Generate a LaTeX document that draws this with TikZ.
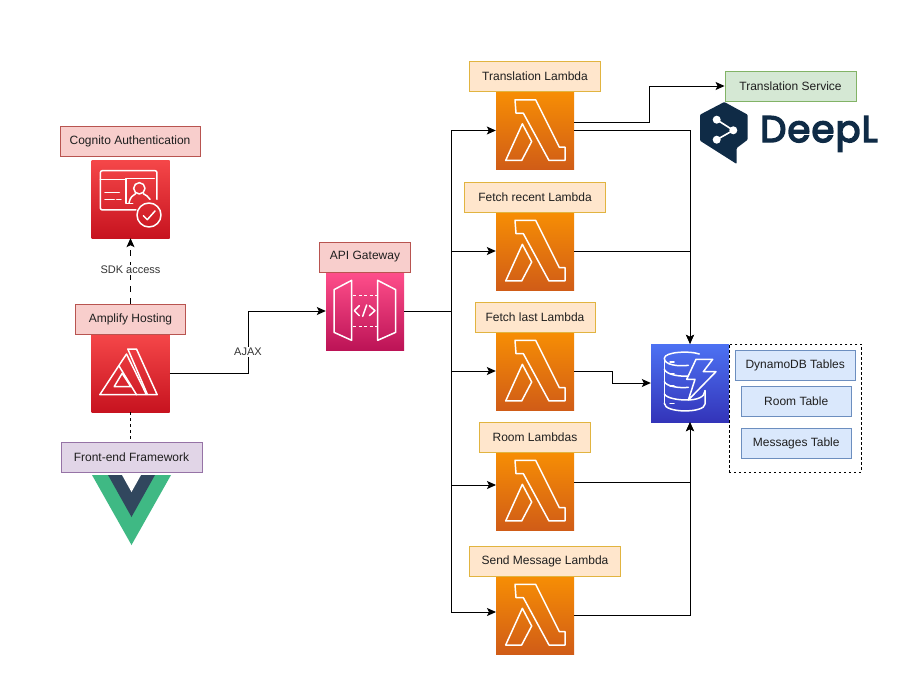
\documentclass[tikz,border=0pt]{standalone}
\usepackage{fontspec}
\setmainfont{Liberation Sans}
\newfontfamily\logofont[FakeBold=4,LetterSpace=3]{Poppins}
\usetikzlibrary{arrows.meta,calc}
\definecolor{ink}{HTML}{1F1F1F}
\definecolor{edgeink}{HTML}{333333}
\definecolor{navy}{HTML}{0F2B46}
\definecolor{redlo}{HTML}{C7131F}\definecolor{redhi}{HTML}{F54749}
\definecolor{pinklo}{HTML}{BC1356}\definecolor{pinkhi}{HTML}{FF4F8B}
\definecolor{orglo}{HTML}{D05C17}\definecolor{orghi}{HTML}{F78E04}
\definecolor{blulo}{HTML}{3334B9}\definecolor{bluhi}{HTML}{4D72F3}
\definecolor{redline}{HTML}{B85450}\definecolor{redfill}{HTML}{F8CECC}
\definecolor{orgline}{HTML}{D79B00}\definecolor{orgfill}{HTML}{FFE6CC}
\definecolor{purline}{HTML}{9673A6}\definecolor{purfill}{HTML}{E1D5E7}
\definecolor{grnline}{HTML}{82B366}\definecolor{grnfill}{HTML}{D5E8D4}
\definecolor{bluline}{HTML}{6C8EBF}\definecolor{blufill}{HTML}{DAE8FC}
\definecolor{vuegreen}{HTML}{3FB984}\definecolor{vuedark}{HTML}{31475E}
\tikzset{
  lab/.style={line width=0.9pt,minimum height=30pt,inner sep=0pt,text=ink,font=\fontsize{12}{14}\selectfont},
  redlab/.style={lab,draw=redline,fill=redfill},
  orangelab/.style={lab,draw=orgline!75,fill=orgfill},
  purplelab/.style={lab,draw=purline,fill=purfill},
  greenlab/.style={lab,draw=grnline,fill=grnfill},
  bluelab/.style={lab,draw=bluline,fill=blufill},
  icon/.style={minimum width=78pt,minimum height=78pt,inner sep=0pt},
  conn/.style={draw=black,line width=1pt,-{Stealth[length=9pt,width=8pt,inset=2pt]}},
  plain/.style={draw=black,line width=1pt},
  edgelab/.style={fill=white,inner sep=1pt,text=edgeink,font=\fontsize{11}{13}\selectfont},
  glyph/.style={draw=white,line width=1.5pt,line join=round,line cap=round,fill=none},
  lambdaglyph/.pic={
    \begin{scope}[x=0.3333pt,y=-0.3333pt,shift={(-168,-125)}]
      \draw[glyph] (225,150)--(287,150)--(358,292)--(375,292)--(375,332)--(327,332)--(250,190)--(228,190)--cycle;
      \draw[glyph] (247,222)--(275,275)--(245,332)--(197,332)--cycle;
    \end{scope}},
  amplifyglyph/.pic={
    \begin{scope}[x=0.3333pt,y=-0.3333pt,shift={(1.5,0)}]
      \draw[glyph] (109,45)--(135,45)--(197,182)--(168,182)--cycle;
      \draw[glyph] (105,60)--(165,182)--(135,182)--(82,95)--cycle;
      \draw[glyph] (82,95)--(25,182)--(135,182);
      \draw[glyph] (68,158)--(118,158)--(92,118)--cycle;
    \end{scope}},
  cognitoglyph/.pic={
    \begin{scope}[x=0.3333pt,y=-0.3333pt]
      \draw[glyph,rounded corners=2pt] (135,150)--(28,150)--(28,32)--(198,32)--(198,118);
      \draw[glyph] (28,58)--(103,58);
      \draw[glyph] (125,130)--(105,130)--(105,55)--(190,55);
      \draw[glyph] (42,97)--(85,97);
      \draw[glyph] (42,118)--(70,118) (77,118)--(90,118);
      \draw[glyph] (145,85) circle[radius=17];
      \draw[glyph] (114,128) .. controls (118,112) and (125,105) .. (134,101);
      \draw[glyph] (157,101) .. controls (165,105) and (172,110) .. (177,118);
      \draw[glyph] (174,165) circle[radius=36];
      \draw[glyph] (157,167)--(169,179)--(192,153);
    \end{scope}},
  apiglyph/.pic={
    \begin{scope}[x=0.3333pt,y=-0.3333pt,shift={(-78,-127)}]
      \draw[glyph] (102,180)--(155,152)--(155,332)--(102,308)--cycle;
      \draw[glyph] (233,152)--(287,180)--(287,308)--(233,332)--cycle;
      \draw[glyph,dash pattern=on 3pt off 2.4pt,line cap=butt] (160,197)--(232,197) (160,290)--(232,290);
      \draw[glyph] (178,228)--(163,243)--(178,258);
      \draw[glyph] (208,228)--(225,243)--(208,258);
      \draw[glyph] (200,226)--(188,260);
    \end{scope}},
  dynamoglyph/.pic={
    \begin{scope}[x=0.3333pt,y=-0.3333pt,shift={(-273,-72)}]
      \draw[glyph] (418,102) .. controls (390,92) and (313,95) .. (313,115) .. controls (313,135) and (355,140) .. (385,136);
      \draw[glyph] (313,115)--(313,250);
      \draw[glyph] (313,148) .. controls (320,165) and (360,170) .. (385,168);
      \draw[glyph] (313,185) .. controls (320,200) and (360,205) .. (385,202);
      \draw[glyph] (313,222) .. controls (320,235) and (355,240) .. (380,240) .. controls (410,240) and (435,232) .. (435,212);
      \draw[glyph] (435,212)--(435,252) .. controls (435,280) and (313,280) .. (313,250);
      \draw[glyph] (330,126)--(342,126) (330,160)--(342,160) (330,198)--(342,198) (330,250)--(342,250);
      \draw[glyph] (408,118)--(458,118)--(430,155)--(468,155)--(385,240)--(405,178)--(380,178)--cycle;
    \end{scope}}
}
\begin{document}
\begin{tikzpicture}[x=1pt,y=-1pt]
\useasboundingbox[fill=white] (0,0) rectangle (910,685);

% icons
\node[icon,bottom color=redlo,top color=redhi] (cognito) at (130.5,199) {};
\node[icon,bottom color=redlo,top color=redhi] (amplify) at (130.5,373) {};
\node[icon,bottom color=pinklo,top color=pinkhi] (api) at (365,311) {};
\node[icon,bottom color=orglo,top color=orghi] (l1) at (535,130.5) {};
\node[icon,bottom color=orglo,top color=orghi] (l2) at (535,251) {};
\node[icon,bottom color=orglo,top color=orghi] (l3) at (535,371) {};
\node[icon,bottom color=orglo,top color=orghi] (l4) at (535,491) {};
\node[icon,bottom color=orglo,top color=orghi] (l5) at (535,615) {};
\node[icon,bottom color=blulo,top color=bluhi] (dynamo) at (690,383) {};

\pic at (91,160) {cognitoglyph};
\pic at (91,334) {amplifyglyph};
\pic at (326,272) {apiglyph};
\pic at (496,91.5) {lambdaglyph};
\pic at (496,212) {lambdaglyph};
\pic at (496,332) {lambdaglyph};
\pic at (496,452) {lambdaglyph};
\pic at (496,576) {lambdaglyph};
\pic at (651,344) {dynamoglyph};

% labels
\node[redlab,minimum width=140pt] (cognitolab) at (130,141) {Cognito Authentication};
\node[redlab,minimum width=110pt] (amplifylab) at (130.5,319) {Amplify Hosting};
\node[purplelab,minimum width=141pt] (vuelab) at (131.5,457) {Front-end Framework};
\node[redlab,minimum width=91pt] (apilab) at (365,257) {API Gateway};
\node[orangelab,minimum width=131pt] (l1lab) at (535,76.5) {Translation Lambda};
\node[orangelab,minimum width=141pt] (l2lab) at (535,197) {Fetch recent Lambda};
\node[orangelab,minimum width=120pt] (l3lab) at (535,317) {Fetch last Lambda};
\node[orangelab,minimum width=111pt] (l4lab) at (535,437) {Room Lambdas};
\node[orangelab,minimum width=151pt] (l5lab) at (545,561) {Send Message Lambda};
\node[greenlab,minimum width=131pt] (trans) at (790.5,86) {Translation Service};

% dashed group and tables
\node[draw=black,line width=0.8pt,dash pattern=on 2.5pt off 2.5pt,minimum width=132.5pt,minimum height=128.5pt,inner sep=0pt] (group) at (795.2,408.2) {};
\node[bluelab,minimum width=120.5pt] (t0) at (795.2,365) {DynamoDB Tables};
\node[bluelab,minimum width=110.5pt] (t1) at (796.2,401) {Room Table};
\node[bluelab,minimum width=110.5pt] (t2) at (796.2,443) {Messages Table};

% Vue logo
\fill[vuegreen] (92,475)--(171,475)--(131.5,545)--cycle;
\fill[vuedark] (108,475)--(155,475)--(131.5,517)--cycle;
\fill[white] (122,475)--(141,475)--(131.5,492)--cycle;

% DeepL logo
\fill[navy,rounded corners=1pt] (724.3,102)--(747.7,114.7)--(747.7,139.7)--(736.7,148)--(736.7,164)--(700,140.7)--(700,114.7)--cycle;
\fill[white] (716.7,119.7) circle[radius=4] (733.3,130.3) circle[radius=4] (716.7,139.7) circle[radius=4];
\draw[white,line width=1.6pt] (716.7,119.7)--(733.3,130.3)--(716.7,139.7);
\node[inner sep=0pt,text=navy,anchor=base west,font=\logofont\fontsize{37}{40}\selectfont] (deepl) at (760,142) {DeepL};

% connectors
\coordinate (ajaxbend) at (248,373);
\coordinate (bus) at (451,311);
\coordinate (t1out) at (574,122);
\coordinate (t1bend) at (649,122);
\coordinate (l3bend) at (612,371);
\coordinate (l4in) at (496,485);
\coordinate (l4out) at (574,482);
\coordinate (l5in) at (496,612);
\draw[conn] (amplify.east) -- (ajaxbend) |- (api.west);
\node[edgelab] (ajax) at (248,352) {AJAX};
\draw[plain] (api.east) -- (bus);
\draw[conn] (bus) |- (l1.west);
\draw[conn] (bus) |- (l2.west);
\draw[conn] (bus) |- (l3.west);
\draw[conn] (bus) |- (l4in);
\draw[conn] (bus) |- (l5in);
\draw[conn] (t1out) -| (t1bend) |- (trans.west);
\draw[conn] (l1.east) -| (dynamo.north);
\draw[conn] (l2.east) -| (dynamo.north);
\draw[conn] (l3.east) -- (l3bend) |- (dynamo.west);
\draw[conn] (l4out) -| (dynamo.south);
\draw[conn] (l5.east) -| (dynamo.south);
\draw[conn,dash pattern=on 6pt off 6pt] (amplifylab.north) -- (cognito.south);
\node[edgelab] (sdk) at (130.5,270) {SDK access};
\draw[plain,dash pattern=on 3pt off 3pt] (amplify.south) -- (vuelab.north -| amplify.south);
\end{tikzpicture}
\end{document}
